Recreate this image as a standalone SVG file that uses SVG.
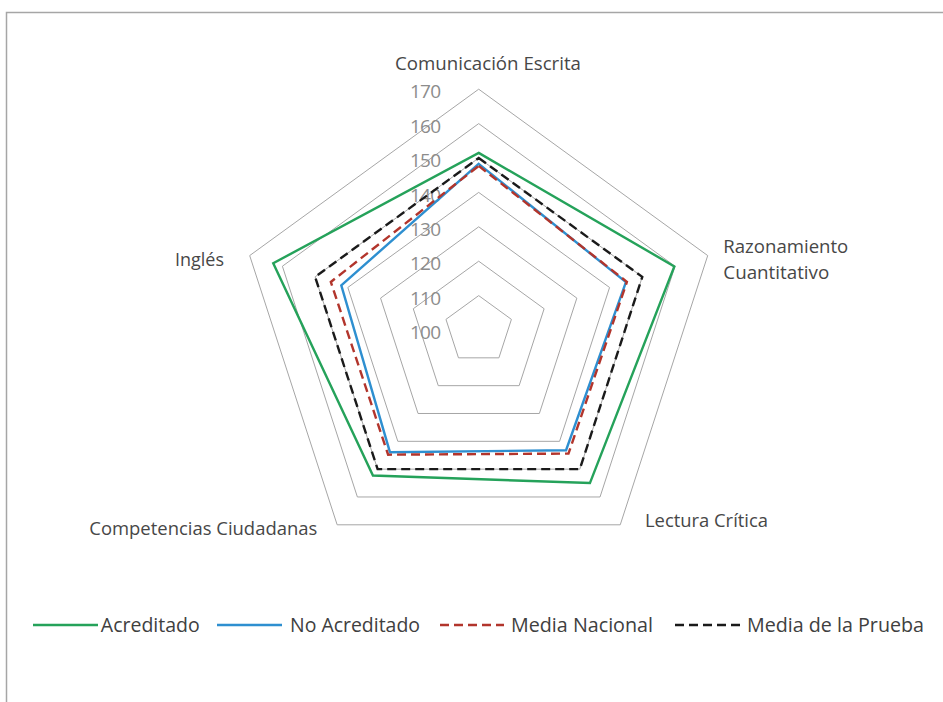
<svg xmlns="http://www.w3.org/2000/svg" width="943" height="702" viewBox="0 0 943 702">
<style>
.grid{fill:none;stroke:#a6a6a6;stroke-width:1}
.s{fill:none;stroke-width:2.4;stroke-linejoin:miter}
.acr{stroke:#25a25a}
.noacr{stroke:#2e8fd0}
.nac{stroke:#b2352c;stroke-dasharray:9 5}
.pru{stroke:#1a1a1a;stroke-dasharray:9 5}
.ax{font-family:"Open Sans","Liberation Sans",sans-serif;font-size:19px;fill:#474747}
.tk{font-family:"Open Sans","Liberation Sans",sans-serif;font-size:19px;fill:#8c8c8c;text-anchor:end}
.lg{font-family:"Open Sans","Liberation Sans",sans-serif;font-size:20px;fill:#404040}
</style>
<rect x="0" y="0" width="943" height="702" fill="#ffffff"/>
<path d="M6.5,702 V12.5 H943" fill="none" stroke="#a6a6a6" stroke-width="1.5"/>
<g id="grid">
<polygon class="grid" points="478.7,295.6 511.42,319.37 498.92,357.83 458.48,357.83 445.98,319.37"/>
<polygon class="grid" points="478.7,261.2 544.13,308.74 519.14,385.66 438.26,385.66 413.27,308.74"/>
<polygon class="grid" points="478.7,226.8 576.85,298.11 539.36,413.49 418.04,413.49 380.55,298.11"/>
<polygon class="grid" points="478.7,192.4 609.57,287.48 559.58,441.32 397.82,441.32 347.83,287.48"/>
<polygon class="grid" points="478.7,158 642.28,276.85 579.8,469.15 377.6,469.15 315.12,276.85"/>
<polygon class="grid" points="478.7,123.6 675,266.22 600.02,496.98 357.38,496.98 282.4,266.22"/>
<polygon class="grid" points="478.7,89.2 707.71,255.59 620.24,524.81 337.16,524.81 249.69,255.59"/>
</g>
<g id="ticks">
<text class="tk" x="441" y="98.3" textLength="31">170</text>
<text class="tk" x="441" y="132.7" textLength="31">160</text>
<text class="tk" x="441" y="167.1" textLength="31">150</text>
<text class="tk" x="441" y="201.5" textLength="31">140</text>
<text class="tk" x="441" y="235.9" textLength="31">130</text>
<text class="tk" x="441" y="270.3" textLength="31">120</text>
<text class="tk" x="441" y="304.7" textLength="31">110</text>
<text class="tk" x="441" y="339.1" textLength="31">100</text>
</g>
<g id="series">
<polygon id="acreditado" class="s acr" points="478.7,152.84 674.34,266.43 589.91,483.07 372.95,475.55 273.24,263.24"/>
<polygon id="no-acreditado" class="s noacr" points="478.7,163.85 625.92,282.16 566.05,450.23 389.93,452.18 341.29,285.35"/>
<polygon id="media-nacional" class="s nac" points="478.7,165.91 626.9,281.85 568.48,453.57 388.12,454.68 330.82,281.95"/>
<polygon id="media-prueba" class="s pru" points="478.7,158 642.28,276.85 579.8,469.15 377.6,469.15 315.12,276.85"/>
</g>
<g id="axis-labels">
<text class="ax" x="395" y="70" textLength="186" lengthAdjust="spacingAndGlyphs">Comunicación Escrita</text>
<text class="ax" x="723.3" y="253.3" textLength="125" lengthAdjust="spacingAndGlyphs">Razonamiento</text>
<text class="ax" x="723.3" y="279.3" textLength="106" lengthAdjust="spacingAndGlyphs">Cuantitativo</text>
<text class="ax" x="645" y="526.7" textLength="123" lengthAdjust="spacingAndGlyphs">Lectura Crítica</text>
<text class="ax" x="89.3" y="535" textLength="228" lengthAdjust="spacingAndGlyphs">Competencias Ciudadanas</text>
<text class="ax" x="175" y="265.7" textLength="49" lengthAdjust="spacingAndGlyphs">Inglés</text>
</g>
<g id="legend">
<line class="s acr" x1="33" y1="625" x2="98" y2="625"/>
<text class="lg" x="100.8" y="632" textLength="99" lengthAdjust="spacingAndGlyphs">Acreditado</text>
<line class="s noacr" x1="217" y1="625" x2="282" y2="625"/>
<text class="lg" x="290" y="632" textLength="130" lengthAdjust="spacingAndGlyphs">No Acreditado</text>
<line class="s nac" x1="440" y1="625" x2="504" y2="625"/>
<text class="lg" x="511" y="632" textLength="142" lengthAdjust="spacingAndGlyphs">Media Nacional</text>
<line class="s pru" x1="675" y1="625" x2="741" y2="625"/>
<text class="lg" x="747" y="632" textLength="177" lengthAdjust="spacingAndGlyphs">Media de la Prueba</text>
</g>
</svg>
